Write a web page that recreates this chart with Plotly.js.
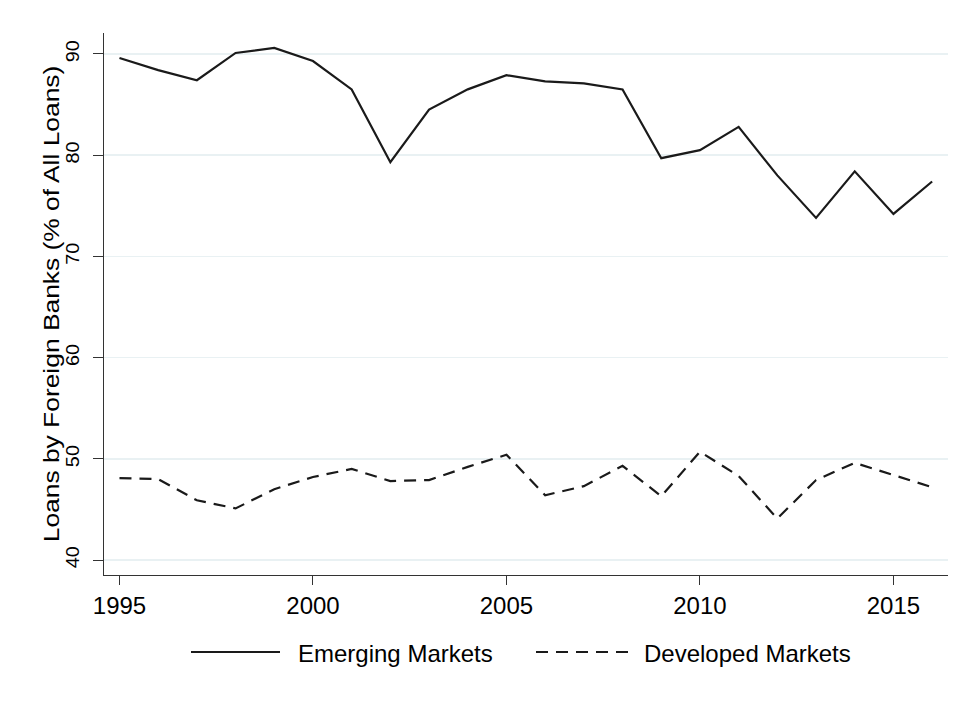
<!DOCTYPE html>
<html>
<head>
<meta charset="utf-8">
<script src="https://cdn.plot.ly/plotly-3.0.1.min.js"></script>
<style>
  html, body { margin: 0; padding: 0; background: #fff; }
  #chart { width: 961px; height: 705px; }
</style>
</head>
<body>
<div id="chart"></div>
<script>
// ---- data ----
const years = [1995, 1996, 1997, 1998, 1999, 2000, 2001, 2002, 2003, 2004, 2005,
               2006, 2007, 2008, 2009, 2010, 2011, 2012, 2013, 2014, 2015, 2016];
const emerging = [89.6, 88.4, 87.4, 90.1, 90.6, 89.3, 86.5, 79.3, 84.5, 86.5, 87.9,
                  87.3, 87.1, 86.5, 79.7, 80.5, 82.8, 78.0, 73.8, 78.4, 74.2, 77.4];
const developed = [48.1, 48.0, 45.9, 45.1, 47.0, 48.2, 49.0, 47.8, 47.9, 49.2, 50.4,
                   46.4, 47.3, 49.3, 46.3, 50.7, 48.3, 44.1, 47.9, 49.6, 48.4, 47.2];
const seriesNames = ["Emerging Markets", "Developed Markets"];
const xTicks = [1995, 2000, 2005, 2010, 2015];
const yTicks = [40, 50, 60, 70, 80, 90];
const yTitle = "Loans by Foreign Banks (% of All Loans)";

const FONT = "Liberation Sans, Arial, sans-serif";
const LINE = "#1a1a1a";
const DASH = "12px,8px";

const traces = [
  { x: years, y: emerging, name: seriesNames[0], type: "scatter", mode: "lines",
    line: { color: LINE, width: 2.2 }, showlegend: false },
  { x: years, y: developed, name: seriesNames[1], type: "scatter", mode: "lines",
    line: { color: LINE, width: 2.2, dash: DASH }, showlegend: false }
];

// legend drawn as paper-referenced decorations (long Stata-style keys)
const W = 961, H = 705, L = 104, R = 13, T = 33, B = 130;
const pw = W - L - R, ph = H - T - B;
const px = v => (v - L) / pw;
const py = v => (H - B - v) / ph;
const legY = 652;

const layout = {
  width: W, height: H,
  margin: { l: L, r: R, t: T, b: B },
  paper_bgcolor: "#ffffff",
  plot_bgcolor: "#ffffff",
  font: { family: FONT, color: "#000" },
  showlegend: false,
  xaxis: {
    range: [1994.6, 2016.41],
    tickvals: xTicks,
    ticktext: xTicks.map(String),
    ticks: "outside", ticklen: 9, tickwidth: 1, tickcolor: "#333",
    showline: true, linecolor: "#333", linewidth: 1,
    showgrid: false, zeroline: false,
    tickfont: { family: FONT, size: 24, color: "#000" }
  },
  yaxis: {
    range: [38.52, 92.07],
    tickvals: yTicks,
    ticktext: yTicks.map(String),
    tickangle: -90,
    ticks: "outside", ticklen: 10, tickwidth: 1, tickcolor: "#333",
    ticklabelstandoff: 6,
    showline: true, linecolor: "#333", linewidth: 1,
    showgrid: true, gridcolor: "#e9f1f3", gridwidth: 1.5,
    zeroline: false,
    tickfont: { family: FONT, size: 18, color: "#000" },
    title: { text: yTitle, font: { family: FONT, size: 22, color: "#000" }, standoff: 4 }
  },
  shapes: [
    { type: "line", xref: "paper", yref: "paper", x0: px(191), x1: px(280), y0: py(legY), y1: py(legY),
      line: { color: LINE, width: 2.2 } },
    { type: "line", xref: "paper", yref: "paper", x0: px(536), x1: px(628), y0: py(legY), y1: py(legY),
      line: { color: LINE, width: 2.2, dash: DASH } }
  ],
  annotations: [
    { xref: "paper", yref: "paper", x: px(296), y: py(653), xanchor: "left", yanchor: "middle",
      text: seriesNames[0], showarrow: false, font: { family: FONT, size: 24, color: "#000" } },
    { xref: "paper", yref: "paper", x: px(642), y: py(653), xanchor: "left", yanchor: "middle",
      text: seriesNames[1], showarrow: false, font: { family: FONT, size: 24, color: "#000" } }
  ]
};

// Stata draws rotated text slightly stretched along its baseline; mimic by
// stretching vertically about the label centre and placing it at a target x.
function stretch(el, k, targetX) {
  const parent = el.parentNode;
  const wrap = document.createElementNS("http://www.w3.org/2000/svg", "g");
  parent.insertBefore(wrap, el);
  wrap.appendChild(el);
  const b = wrap.getBBox();
  const cx = b.x + b.width / 2, cy = b.y + b.height / 2;
  const r = wrap.getBoundingClientRect();
  const dx = targetX - (r.left + r.width / 2);
  wrap.setAttribute("transform",
    "translate(" + (cx + dx) + "," + cy + ") scale(1," + k + ") translate(" + (-cx) + "," + (-cy) + ")");
}

Plotly.newPlot("chart", traces, layout, { displayModeBar: false, staticPlot: true }).then(gd => {
  gd.querySelectorAll(".ytick text").forEach(t => stretch(t, 1.1, 73));
  gd.querySelectorAll(".g-ytitle text").forEach(t => stretch(t, 1.2, 52));
});
</script>
</body>
</html>
